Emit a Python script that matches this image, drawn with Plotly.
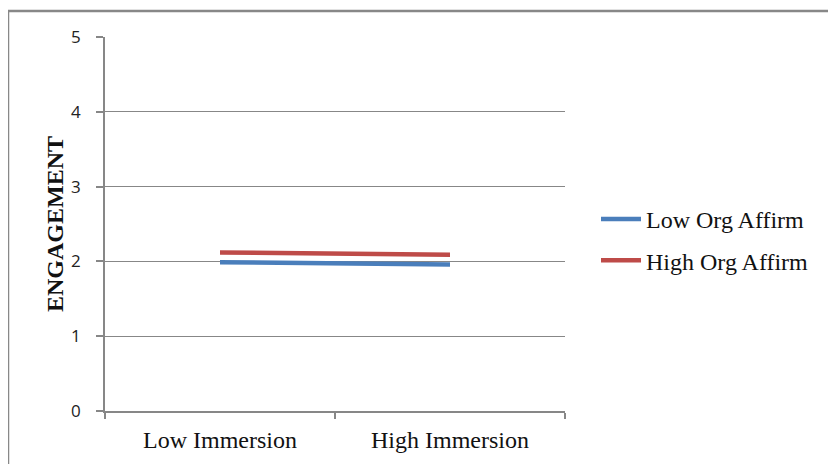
import plotly.graph_objects as go

categories = ["Low Immersion", "High Immersion"]
low_org_affirm = [1.99, 1.96]
high_org_affirm = [2.12, 2.09]
series_names = ["Low Org Affirm", "High Org Affirm"]
y_ticks = [0, 1, 2, 3, 4, 5]

# page body margin offset (the figure is drawn 8px in from the page corner)
OFF = 8
W, H = 836, 464
# plot-area edges in screen pixels
SX0, SX1, SY0, SY1 = 105, 565, 37, 411
L, T = SX0 - OFF, SY0 - OFF
pw, ph = SX1 - SX0, SY1 - SY0
R, B = W - L - pw, H - T - ph

def px_x(p):
    return (p - SX0) / pw

def px_y(p):
    return (SY1 - p) / ph

serif = "Liberation Serif, Times New Roman, serif"

fig = go.Figure()
fig.add_trace(go.Scatter(x=categories, y=low_org_affirm, mode="lines", name=series_names[0],
                         legendgroup="a", line=dict(color="#4A7EBB", width=4.5)))
fig.add_trace(go.Scatter(x=categories, y=high_org_affirm, mode="lines", name=series_names[1],
                         legendgroup="b", line=dict(color="#BE4B48", width=4.5)))

grid = "#878787"
fig.update_layout(
    width=W, height=H,
    margin=dict(l=L, r=R, t=T, b=B),
    paper_bgcolor="white", plot_bgcolor="white",
    showlegend=True,
    legend=dict(x=px_x(596), y=px_y(197), xanchor="left", yanchor="top",
                font=dict(family=serif, size=24, color="#111"),
                traceorder="grouped", tracegroupgap=7, itemwidth=40,
                bgcolor="rgba(0,0,0,0)"),
    xaxis=dict(type="category", range=[-0.5, 1.5], showgrid=False, showline=True,
               linecolor=grid, linewidth=1.5, ticks="outside", tickson="boundaries",
               ticklen=6, tickcolor=grid, tickwidth=1.5, ticklabelstandoff=6,
               tickfont=dict(family=serif, size=24, color="#111"),
               fixedrange=True),
    yaxis=dict(range=[0, 5], tickvals=y_ticks, showgrid=True, gridcolor=grid, gridwidth=1.3,
               showline=True, linecolor=grid, linewidth=1.5, ticks="outside", ticklen=7,
               tickcolor=grid, tickwidth=1.5, zeroline=False, ticklabelstandoff=12,
               tickfont=dict(family="Open Sans, Liberation Sans, sans-serif", size=17, color="#222"),
               title=dict(text="<b>ENGAGEMENT</b>", standoff=1,
                          font=dict(family=serif, size=24, color="#111"))),
)

# outer chart border (top and left visible)
fig.add_shape(type="line", xref="paper", yref="paper", x0=px_x(8), x1=px_x(850),
              y0=px_y(11), y1=px_y(11), line=dict(color="#888", width=2.5))
fig.add_shape(type="line", xref="paper", yref="paper", x0=px_x(8), x1=px_x(8),
              y0=px_y(11), y1=px_y(480), line=dict(color="#888", width=2.5))

fig.write_html("out.html")
